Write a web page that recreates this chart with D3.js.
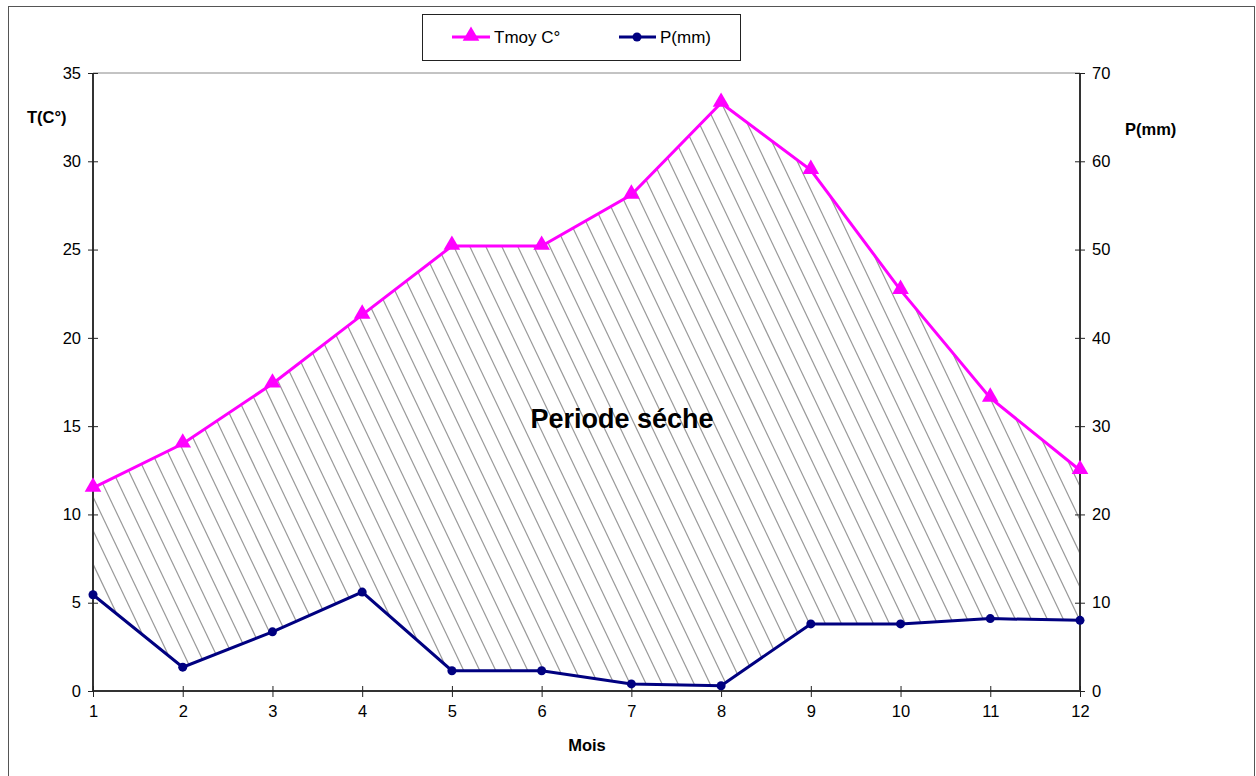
<!DOCTYPE html>
<html>
<head>
<meta charset="utf-8">
<script src="https://cdn.jsdelivr.net/npm/d3@7"></script>
<style>
  body { margin: 0; background: #fff; }
  text { font-family: "Liberation Sans", Arial, sans-serif; }
</style>
</head>
<body>
<div id="chart"></div>
<script>
// monthly values
const months = [1, 2, 3, 4, 5, 6, 7, 8, 9, 10, 11, 12];
const tmoy = [11.5, 14.0, 17.4, 21.3, 25.2, 25.2, 28.1, 33.3, 29.5, 22.7, 16.6, 12.5];
const precip = [10.9, 2.7, 6.7, 11.2, 2.3, 2.3, 0.8, 0.6, 7.6, 7.6, 8.2, 8.0];
const tTicks = [0, 5, 10, 15, 20, 25, 30, 35];
const pTicks = [0, 10, 20, 30, 40, 50, 60, 70];

const width = 1256, height = 776;
const svg = d3.select("#chart").append("svg")
    .attr("width", width)
    .attr("height", height);

// outer frame
svg.append("rect")
    .attr("x", 8.5).attr("y", 6.5)
    .attr("width", 1246).attr("height", 790)
    .attr("fill", "none").attr("stroke", "#555").attr("stroke-width", 1);

const x = d3.scaleLinear().domain([1, 12]).range([93, 1080]);
const yT = d3.scaleLinear().domain([0, 35]).range([691, 73]);
const yP = d3.scaleLinear().domain([0, 70]).range([691, 73]);

// top border of the plot area
svg.append("line")
    .attr("x1", x(1)).attr("x2", x(12))
    .attr("y1", yT(35)).attr("y2", yT(35))
    .attr("stroke", "#888");

// hatched "dry period" between the two curves
const areaPts = months.map((m, i) => [x(m), yT(tmoy[i])])
    .concat(months.map((m, i) => [x(m), yP(precip[i])]).reverse());

svg.append("clipPath").attr("id", "dry")
    .append("polygon")
    .attr("points", areaPts.map(p => p.join(",")).join(" "));

const hatch = svg.append("g").attr("clip-path", "url(#dry)");
const step = 16, slope = 2.1;
for (let x0 = x(1) - 400; x0 < x(12) + 20; x0 += step) {
    hatch.append("line")
        .attr("x1", x0).attr("y1", 60)
        .attr("x2", x0 + (700 - 60) / slope).attr("y2", 700)
        .attr("stroke", "#999").attr("stroke-width", 1.2);
}

svg.append("text")
    .attr("x", 622).attr("y", 428)
    .attr("text-anchor", "middle")
    .attr("font-size", 27).attr("font-weight", "bold")
    .text("Periode séche");

// axes
const left = svg.append("g")
    .attr("transform", `translate(${x(1)},0)`)
    .call(d3.axisLeft(yT).tickValues(tTicks).tickSize(5).tickPadding(7));
const right = svg.append("g")
    .attr("transform", `translate(${x(12)},0)`)
    .call(d3.axisRight(yP).tickValues(pTicks).tickSize(5).tickPadding(7));
const bottom = svg.append("g")
    .attr("transform", `translate(0,${yT(0)})`)
    .call(d3.axisBottom(x).tickValues(months).tickSize(6).tickPadding(8));

left.selectAll(".tick line").attr("x1", 5);
right.selectAll(".tick line").attr("x1", -5);
bottom.selectAll(".tick line").attr("y1", -5);

[left, right, bottom].forEach(g => {
    g.select(".domain").attr("stroke", "#333").attr("stroke-width", 2)
        .attr("d", null);
    g.selectAll(".tick line").attr("stroke", "#222");
    g.selectAll(".tick text").attr("font-size", 16.5).attr("fill", "#000")
        .style("font-family", "'Liberation Sans', Arial, sans-serif");
});
left.select(".domain").attr("d", `M0,${yT(0)}V${yT(35)}`);
right.select(".domain").attr("d", `M0,${yP(0)}V${yP(70)}`);
bottom.select(".domain").attr("d", `M${x(1)},0H${x(12)}`);

// axis titles
svg.append("text").attr("x", 27).attr("y", 123)
    .attr("font-size", 16.5).attr("font-weight", "bold").text("T(C°)");
svg.append("text").attr("x", 1125).attr("y", 135)
    .attr("font-size", 16.5).attr("font-weight", "bold").text("P(mm)");
svg.append("text").attr("x", 587).attr("y", 751)
    .attr("text-anchor", "middle")
    .attr("font-size", 16.5).attr("font-weight", "bold").text("Mois");

// series
const pink = "#ff00ff", navy = "#000080";
const tri = d3.symbol().type(d3.symbolTriangle).size(120);

svg.append("path")
    .datum(tmoy)
    .attr("fill", "none").attr("stroke", pink).attr("stroke-width", 3)
    .attr("d", d3.line().x((d, i) => x(months[i])).y(d => yT(d)));
svg.selectAll(".tri").data(tmoy).enter().append("path")
    .attr("class", "tri")
    .attr("d", tri)
    .attr("fill", pink)
    .attr("transform", (d, i) => `translate(${x(months[i])},${yT(d) - 1})`);

svg.append("path")
    .datum(precip)
    .attr("fill", "none").attr("stroke", navy).attr("stroke-width", 3)
    .attr("d", d3.line().x((d, i) => x(months[i])).y(d => yP(d)));
svg.selectAll(".dot").data(precip).enter().append("circle")
    .attr("class", "dot")
    .attr("cx", (d, i) => x(months[i]))
    .attr("cy", d => yP(d))
    .attr("r", 4.5)
    .attr("fill", navy);

// legend
const legend = svg.append("g");
legend.append("rect")
    .attr("x", 422.5).attr("y", 14.5).attr("width", 318).attr("height", 46)
    .attr("fill", "#fff").attr("stroke", "#222");
legend.append("line").attr("x1", 452).attr("x2", 490).attr("y1", 37).attr("y2", 37)
    .attr("stroke", pink).attr("stroke-width", 3);
legend.append("path").attr("d", tri).attr("fill", pink)
    .attr("transform", "translate(471,36)");
legend.append("text").attr("x", 494).attr("y", 43)
    .attr("font-size", 17).text("Tmoy C°");
legend.append("line").attr("x1", 619).attr("x2", 656).attr("y1", 37).attr("y2", 37)
    .attr("stroke", navy).attr("stroke-width", 3);
legend.append("circle").attr("cx", 637).attr("cy", 37).attr("r", 4.5).attr("fill", navy);
legend.append("text").attr("x", 660).attr("y", 43)
    .attr("font-size", 17).text("P(mm)");
</script>
</body>
</html>
